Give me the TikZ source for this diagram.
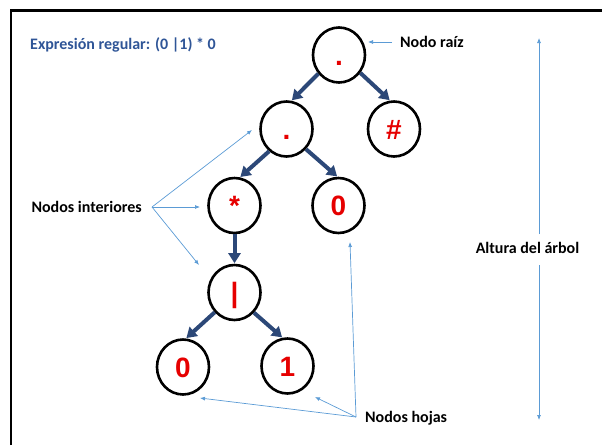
\documentclass[tikz,border=0pt]{standalone}
\usepackage{fontspec}
\setmainfont{Carlito}
\newfontfamily\arialfont{Liberation Sans}
\usetikzlibrary{shapes.geometric,arrows.meta}
\definecolor{navy}{RGB}{44,72,120}
\definecolor{lblue}{RGB}{91,155,213}
\definecolor{ttl}{RGB}{47,85,151}
\definecolor{nred}{RGB}{230,0,0}
\begin{document}
\begin{tikzpicture}[x=1pt,y=-1pt,
  tnode/.style={ellipse,draw=black,line width=2.6pt,minimum width=52pt,minimum height=55pt,inner sep=0pt,
    text=nred,font=\arialfont\bfseries\fontsize{28}{30}\selectfont,text height=20pt,text depth=0pt},
  edge/.style={draw=navy,line width=4pt,shorten >=0.5pt,-{Triangle[length=10pt,width=12pt]}},
  note/.style={draw=lblue,line width=0.7pt,-{Latex[length=5pt,width=4pt]}},
  lbl/.style={font=\bfseries\fontsize{16}{18}\selectfont,text=black,inner sep=0pt}]
\useasboundingbox (0,0) rectangle (602,445);
\draw[line width=2.6pt] (11,445) -- (11,10.5) -- (602,10.5);
% tree nodes
\node[tnode] (r) at (339,55) {.};
\node[tnode] (a) at (286.5,129) {.};
\node[tnode] (h) at (394,129) {\#};
\node[tnode] (s) at (234.5,205.5) {*};
\node[tnode] (z1) at (338.5,205.5) {0};
\node[tnode] (b) at (234.5,292.5) {|};
\node[tnode] (z2) at (183,367) {0};
\node[tnode] (o) at (287.5,366) {1};
% tree edges
\draw[edge] (r.222) -- (a.80);
\draw[edge] (r.320) -- (h.98);
\draw[edge] (a.232) -- (s.79);
\draw[edge] (a.314) -- (z1.92);
\draw[edge] (s.south) -- (b.north);
\draw[edge] (b.225) -- (z2.84);
\draw[edge] (b.314) -- (o.100);
% labels
\node[lbl,text=ttl,anchor=west] (title) at (30,45) {Expresión regular: (0 |1) * 0};
\node[lbl,anchor=west] (raiz) at (400,42) {Nodo raíz};
\node[lbl,anchor=east] (int) at (142,207) {Nodos interiores};
\node[lbl] (alt) at (527.5,248) {Altura del árbol};
\node[lbl,anchor=west] (hoj) at (365,418) {Nodos hojas};
% annotation arrows
\coordinate (rs) at (392,42); \coordinate (rt) at (368,42);
\draw[note] (rs) -- (rt);
\coordinate (io) at (152,207);
\coordinate (i1) at (252,130); \coordinate (i2) at (200,207); \coordinate (i3) at (199,265);
\draw[note] (io) -- (i1);
\draw[note] (io) -- (i2);
\draw[note] (io) -- (i3);
\coordinate (ho) at (356,417);
\coordinate (h1) at (200,398); \coordinate (h2) at (315,397); \coordinate (h3) at (350,242);
\draw[note] (ho) -- (h1);
\draw[note] (ho) -- (h2);
\draw[note] (ho) -- (h3);
\coordinate (am1) at (539,234); \coordinate (at) at (539,38);
\coordinate (am2) at (539,265); \coordinate (ab) at (539,420);
\draw[note] (am1) -- (at);
\draw[note] (am2) -- (ab);
\end{tikzpicture}
\end{document}
